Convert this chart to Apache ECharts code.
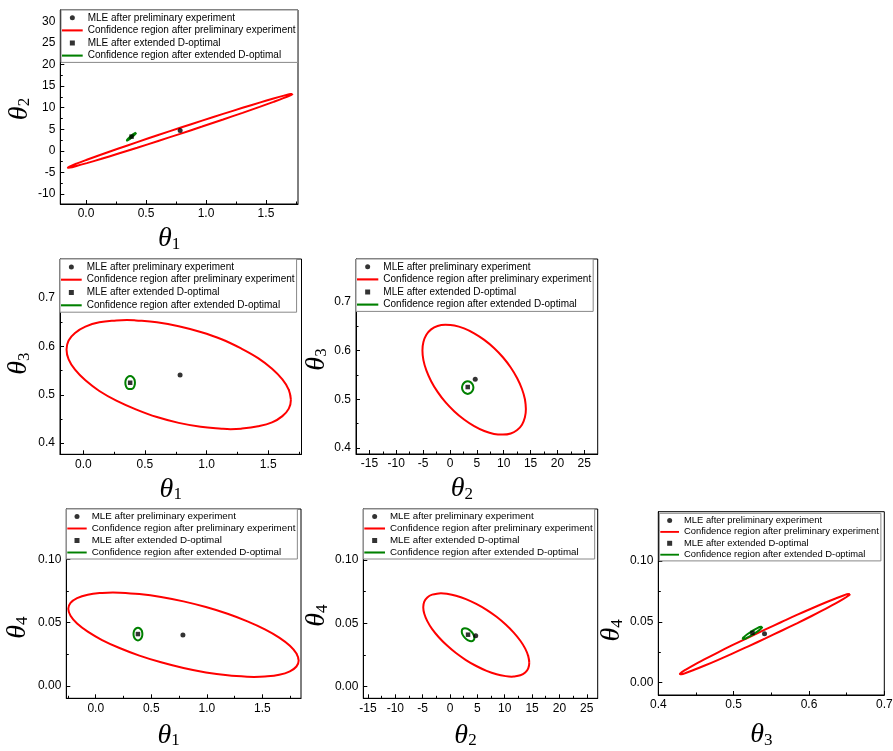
<!DOCTYPE html>
<html><head><meta charset="utf-8">
<script src="https://cdn.jsdelivr.net/npm/echarts@6/dist/echarts.min.js"></script>
<style>html,body{margin:0;padding:0;background:#fff}#c{width:893px;height:751px}</style>
</head><body><div id="c"></div>
<script>
// ---------- data ----------
const seriesNames = ['MLE after preliminary experiment','Confidence region after preliminary experiment','MLE after extended D-optimal','Confidence region after extended D-optimal'];
const mlePrelim = [0.785, 4.7, 0.541, 0.0402];
const mleDopt   = [0.38, 3.3, 0.525, 0.041];

const red_t1_t2 = [[1.721,13.17],[1.718,13.20],[1.703,13.14],[1.650,12.79],[1.563,12.12],[1.447,11.17],[1.305,9.96],[1.143,8.55],[0.968,6.99],[0.785,5.34],[0.602,3.66],[0.427,2.02],[0.265,0.48],[0.123,-0.90],[0.007,-2.06],[-0.080,-2.97],[-0.133,-3.59],[-0.151,-3.89],[-0.148,-3.92],[-0.133,-3.86],[-0.080,-3.51],[0.007,-2.84],[0.123,-1.89],[0.265,-0.68],[0.427,0.73],[0.602,2.29],[0.785,3.94],[0.968,5.62],[1.143,7.26],[1.305,8.80],[1.447,10.18],[1.563,11.34],[1.650,12.25],[1.703,12.87]];
const green_t1_t2 = [[0.417,4.18],[0.4156,4.214],[0.412,4.19],[0.398,3.95],[0.379,3.54],[0.360,3.06],[0.346,2.64],[0.341,2.40],[0.3424,2.366],[0.346,2.39],[0.360,2.63],[0.379,3.04],[0.398,3.52],[0.412,3.94]];
const red_t1_t3 = [[1.684,0.490],[1.667,0.5105],[1.615,0.532],[1.531,0.554],[1.418,0.576],[1.280,0.596],[1.122,0.615],[0.952,0.630],[0.774,0.642],[0.597,0.650],[0.426,0.654],[0.354,0.655],[0.268,0.654],[0.130,0.650],[0.017,0.641],[-0.067,0.628],[-0.119,0.6125],[-0.136,0.594],[-0.119,0.5735],[-0.067,0.552],[0.017,0.530],[0.130,0.508],[0.268,0.488],[0.426,0.470],[0.597,0.454],[0.774,0.442],[0.952,0.434],[1.122,0.430],[1.194,0.429],[1.280,0.430],[1.418,0.435],[1.531,0.443],[1.615,0.456],[1.667,0.4715]];
const green_t1_t3 = [[0.419,0.525],[0.414,0.532],[0.400,0.537],[0.380,0.539],[0.360,0.537],[0.346,0.532],[0.341,0.525],[0.346,0.518],[0.360,0.513],[0.380,0.512],[0.400,0.513],[0.414,0.518]];
const red_t2_t3 = [[14.13,0.480],[13.95,0.500],[13.40,0.521],[12.51,0.543],[11.31,0.565],[9.85,0.586],[8.19,0.605],[6.38,0.6215],[4.50,0.635],[2.62,0.645],[0.82,0.651],[-0.85,0.6523],[-2.31,0.650],[-3.51,0.643],[-4.40,0.632],[-4.95,0.617],[-5.13,0.600],[-4.95,0.580],[-4.40,0.559],[-3.51,0.537],[-2.31,0.515],[-0.85,0.494],[0.82,0.475],[2.62,0.4585],[4.50,0.445],[6.38,0.435],[8.19,0.429],[9.85,0.4277],[11.31,0.430],[12.51,0.437],[13.40,0.448],[13.95,0.463]];
const green_t2_t3 = [[4.36,0.524],[4.22,0.530],[3.83,0.535],[3.30,0.537],[2.77,0.535],[2.38,0.530],[2.24,0.524],[2.38,0.518],[2.77,0.513],[3.30,0.511],[3.83,0.513],[4.22,0.518]];
const red_t1_t4 = [[1.827,0.0201],[1.807,0.0256],[1.748,0.0317],[1.652,0.0382],[1.523,0.0447],[1.366,0.0510],[1.187,0.0570],[0.992,0.0623],[0.790,0.0668],[0.588,0.0703],[0.393,0.0726],[0.214,0.0737],[0.155,0.0738],[0.057,0.0735],[-0.072,0.0721],[-0.168,0.0694],[-0.227,0.0656],[-0.247,0.0609],[-0.227,0.0554],[-0.168,0.0493],[-0.072,0.0429],[0.057,0.0363],[0.214,0.0300],[0.393,0.0240],[0.588,0.0187],[0.790,0.0142],[0.992,0.0107],[1.187,0.0084],[1.366,0.0073],[1.425,0.0072],[1.523,0.0075],[1.652,0.0089],[1.748,0.0116],[1.807,0.0154]];
const green_t1_t4 = [[0.420,0.0410],[0.415,0.0435],[0.400,0.0453],[0.380,0.0460],[0.360,0.0453],[0.345,0.0435],[0.340,0.0410],[0.345,0.0385],[0.360,0.0367],[0.380,0.0360],[0.400,0.0367],[0.415,0.0385]];
const red_t2_t4 = [[14.49,0.0189],[14.30,0.0241],[13.75,0.0300],[12.86,0.0362],[11.65,0.0426],[10.18,0.0490],[8.51,0.0551],[6.69,0.0606],[4.80,0.0653],[2.91,0.0691],[1.09,0.0718],[-0.58,0.0733],[-1.66,0.0737],[-2.05,0.0736],[-3.26,0.0726],[-4.15,0.0704],[-4.70,0.0671],[-4.89,0.0627],[-4.70,0.0575],[-4.15,0.0517],[-3.26,0.0454],[-2.05,0.0390],[-0.58,0.0326],[1.09,0.0265],[2.91,0.0210],[4.80,0.0163],[6.69,0.0125],[8.51,0.0098],[10.18,0.0083],[11.26,0.0079],[11.65,0.0080],[12.86,0.0090],[13.75,0.0112],[14.30,0.0145]];
const green_t2_t4 = [[4.45,0.0384],[4.30,0.0410],[3.88,0.0435],[3.30,0.0454],[2.72,0.0461],[2.30,0.0455],[2.15,0.0436],[2.30,0.0411],[2.72,0.0385],[3.30,0.0366],[3.88,0.0359],[4.30,0.0366]];
const red_t3_t4 = [[0.6544,0.0727],[0.6537,0.0729],[0.6522,0.0728],[0.6458,0.0716],[0.6354,0.0692],[0.6213,0.0657],[0.6042,0.0612],[0.5847,0.0559],[0.5635,0.0499],[0.5415,0.0436],[0.5195,0.0371],[0.4983,0.0308],[0.4788,0.0248],[0.4617,0.0193],[0.4476,0.0147],[0.4372,0.0110],[0.4308,0.00845],[0.4286,0.0071],[0.4293,0.0069],[0.4308,0.0070],[0.4372,0.0082],[0.4476,0.0106],[0.4617,0.0141],[0.4788,0.0186],[0.4983,0.0239],[0.5195,0.0299],[0.5415,0.0362],[0.5635,0.0427],[0.5847,0.0490],[0.6042,0.0550],[0.6213,0.0605],[0.6354,0.0651],[0.6458,0.0688],[0.6522,0.0714]];
const green_t3_t4 = [[0.5379,0.0458],[0.5372,0.0461],[0.5362,0.0460],[0.5315,0.0448],[0.5250,0.0426],[0.5186,0.0400],[0.5138,0.0376],[0.5121,0.0362],[0.5128,0.0359],[0.5138,0.0360],[0.5186,0.0372],[0.5250,0.0394],[0.5315,0.0420],[0.5362,0.0444]];

// tick labels
const ticksT1 = [0, 0.5, 1.0, 1.5];
const minorT1 = [-0.25, 0.25, 0.75, 1.25, 1.75];
const ticksT2v = [-10, -5, 0, 5, 10, 15, 20, 25, 30];
const minorT2v = [-12.5, -7.5, -2.5, 2.5, 7.5, 12.5, 17.5, 22.5, 27.5, 32.5];
const ticksT2h = [-15, -10, -5, 0, 5, 10, 15, 20, 25];
const minorT2h = [-12.5, -7.5, -2.5, 2.5, 7.5, 12.5, 17.5, 22.5];
const ticksT3v = [0.4, 0.5, 0.6, 0.7];
const minorT3v = [0.45, 0.55, 0.65, 0.75];
const ticksT3h = [0.4, 0.5, 0.6, 0.7];
const minorT3h = [0.45, 0.55, 0.65];
const ticksT4 = [0, 0.05, 0.10];
const minorT4 = [0.025, 0.075, 0.125];
const axisNames = ['{t|θ}{s|1}', '{t|θ}{s|2}', '{t|θ}{s|3}', '{t|θ}{s|4}'];

// ---------- layout ----------
const panels = [
  {xi:0, yi:1, red:red_t1_t2, green:green_t1_t2, grid:{left:60.3, top:10, width:237.7, height:194},
   xr:[-0.214,1.767], yr:[-12.3,32.6], xt:ticksT1, xm:minorT1, xd:1, yt:ticksT2v, ym:minorT2v, yd:0,
   leg:{left:61, top:10, fs:10, lh:12.6, iw:20.7}, xn:{gap:21, shift:10}, yn:{gap:27, shift:2}},
  {xi:0, yi:2, red:red_t1_t3, green:green_t1_t3, grid:{left:60, top:259, width:241.5, height:195.3},
   xr:[-0.189,1.770], yr:[0.377,0.781], xt:ticksT1, xm:minorT1, xd:1, yt:ticksT3v, ym:minorT3v, yd:1,
   leg:{left:60, top:259, fs:10, lh:12.8, iw:20.7}, xn:{gap:21, shift:10}, yn:{gap:27, shift:7}},
  {xi:1, yi:2, red:red_t2_t3, green:green_t2_t3, grid:{left:356, top:259, width:241.7, height:195},
   xr:[-17.5,27.5], yr:[0.388,0.787], xt:ticksT2h, xm:minorT2h, xd:0, yt:ticksT3v, ym:minorT3v, yd:1,
   leg:{left:356, top:259, fs:10, lh:12.6, iw:21.3}, xn:{gap:21, shift:15}, yn:{gap:18, shift:3}},
  {xi:0, yi:3, red:red_t1_t4, green:green_t1_t4, grid:{left:66.3, top:509, width:234.7, height:189.3},
   xr:[-0.265,1.848], yr:[-0.0097,0.1397], xt:ticksT1, xm:minorT1, xd:1, yt:ticksT4, ym:minorT4, yd:2,
   leg:{left:66.3, top:509, fs:9.8, lh:12, iw:19.4}, xn:{gap:23, shift:15}, yn:{gap:35, shift:24}},
  {xi:1, yi:3, red:red_t2_t4, green:green_t2_t4, grid:{left:363.3, top:509, width:234.4, height:189.3},
   xr:[-15.85,27.0], yr:[-0.0092,0.1402], xt:ticksT2h, xm:minorT2h, xd:0, yt:ticksT4, ym:minorT4, yd:2,
   leg:{left:363.3, top:509, fs:9.75, lh:12, iw:20.7}, xn:{gap:23, shift:15}, yn:{gap:24, shift:12}},
  {xi:2, yi:3, red:red_t3_t4, green:green_t3_t4, grid:{left:658.3, top:511.7, width:226, height:183.3},
   xr:[0.4,0.7], yr:[-0.0101,0.1405], xt:ticksT3h, xm:minorT3h, xd:1, yt:ticksT4, ym:minorT4, yd:2,
   leg:{left:659.3, top:513.3, fs:9.4, lh:11.4, iw:18.7}, xn:{gap:26, shift:10}, yn:{gap:26, shift:27}}
];

const SANS = 'Liberation Sans, Arial, sans-serif';
const SERIF = 'Liberation Serif, Times New Roman, serif';
const nameRich = {
  t:{fontFamily:SERIF, fontStyle:'italic', fontSize:28, color:'#000'},
  s:{fontFamily:SERIF, fontSize:17, color:'#000', verticalAlign:'bottom', lineHeight:14}
};
const LINE_ICON = 'path://M0,0H20V2H0Z';
const SQUARE_ICON = 'path://M0,0H10V10H0Z';

const grids = [], xAxes = [], yAxes = [], legends = [], series = [];
function closed(arr){ return arr.concat([arr[0], arr[1]]); }

panels.forEach((p, gi) => {
  grids.push(Object.assign({show:true, borderColor:'#000', borderWidth:1, backgroundColor:'transparent', containLabel:false, outerBoundsMode:'none'}, p.grid));
  const mainAx = (kind, range, ticks, dec, nameIdx, ncfg) => ({
    type:'value', gridIndex:gi, min:range[0], max:range[1], position: kind==='x' ? 'bottom' : 'left',
    axisLine:{show:true, onZero:false, lineStyle:{color:'#000', width:1}},
    axisTick:{show:true, inside:true, length:4, customValues:ticks, lineStyle:{color:'#000', width:1}},
    axisLabel:{show:true, customValues:ticks, formatter:(v)=>Number(v).toFixed(dec), color:'#000',
      fontSize:12, fontFamily:SANS, margin: kind==='x' ? 4 : 5, hideOverlap:false},
    splitLine:{show:false}, minorTick:{show:false},
    name: axisNames[nameIdx], nameLocation:'middle', nameGap: ncfg.gap, nameRotate: kind==='y' ? 90 : 0,
    nameTextStyle:{fontFamily:SERIF, fontSize:28, color:'#000', padding:[0, 2*ncfg.shift, 0, 0], rich:nameRich}
  });
  const minorAx = (kind, range, ticks) => ({
    type:'value', gridIndex:gi, min:range[0], max:range[1], position: kind==='x' ? 'bottom' : 'left',
    axisLine:{show:false, onZero:false},
    axisTick:{show:true, inside:true, length:2.5, customValues:ticks, lineStyle:{color:'#000', width:1}},
    axisLabel:{show:false}, splitLine:{show:false}
  });
  xAxes.push(mainAx('x', p.xr, p.xt, p.xd, p.xi, p.xn));
  xAxes.push(minorAx('x', p.xr, p.xm));
  yAxes.push(mainAx('y', p.yr, p.yt, p.yd, p.yi, p.yn));
  yAxes.push(minorAx('y', p.yr, p.ym));
  const xa = 2*gi, ya = 2*gi;
  series.push({type:'line', name:seriesNames[1], xAxisIndex:xa, yAxisIndex:ya, data:closed(p.red),
    symbol:'none', showSymbol:false, smooth:0.4, silent:true, z:2,
    lineStyle:{color:'#ff0000', width:2}, itemStyle:{color:'#ff0000'}});
  series.push({type:'line', name:seriesNames[3], xAxisIndex:xa, yAxisIndex:ya, data:closed(p.green),
    symbol:'none', showSymbol:false, smooth:0.5, silent:true, z:3,
    lineStyle:{color:'#008000', width:2}, itemStyle:{color:'#008000'}});
  series.push({type:'scatter', name:seriesNames[0], xAxisIndex:xa, yAxisIndex:ya,
    data:[[mlePrelim[p.xi], mlePrelim[p.yi]]], symbol:'circle', symbolSize:5, silent:true, z:4,
    itemStyle:{color:'#000'}});
  series.push({type:'scatter', name:seriesNames[2], xAxisIndex:xa, yAxisIndex:ya,
    data:[[mleDopt[p.xi], mleDopt[p.yi]]], symbol:'rect', symbolSize:4.5, silent:true, z:4,
    itemStyle:{color:'#000'}});
  legends.push({
    left:p.leg.left, top:p.leg.top, orient:'vertical', padding:[1.5,2,0.5,1], itemGap:0,
    itemWidth:p.leg.iw, itemHeight:5, borderColor:'#888', borderWidth:1, backgroundColor:'#fff',
    selectedMode:false, symbolKeepAspect:true, itemStyle:{borderWidth:0},
    textStyle:{fontSize:p.leg.fs, lineHeight:p.leg.lh, fontFamily:SANS, color:'#000'},
    data:[{name:seriesNames[0], icon:'circle'}, {name:seriesNames[1], icon:LINE_ICON},
          {name:seriesNames[2], icon:SQUARE_ICON}, {name:seriesNames[3], icon:LINE_ICON}]
  });
});

const chart = echarts.init(document.getElementById('c'), null, {renderer:'canvas'});
chart.setOption({
  animation:false, backgroundColor:'#fff',
  grid:grids, xAxis:xAxes, yAxis:yAxes, legend:legends, series:series, tooltip:{show:false}
});
</script></body></html>
